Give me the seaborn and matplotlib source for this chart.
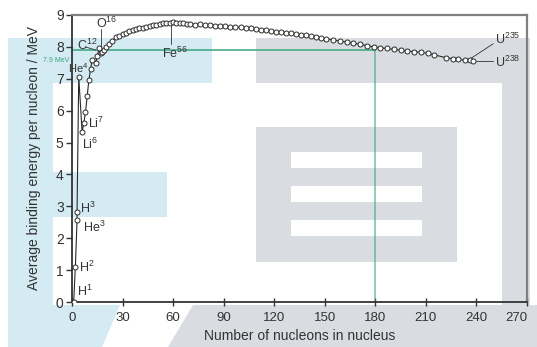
import matplotlib
matplotlib.use("Agg")
import matplotlib.pyplot as plt
import seaborn as sns
import pandas as pd
from matplotlib.patches import Polygon, Rectangle

# mass number A and binding energy per nucleon (MeV)
mass = [1, 2, 3, 3, 4, 6, 7, 8, 9, 10, 11, 12, 14, 15, 16, 17, 18, 19, 20,
        22, 24, 26, 28, 30, 32, 34, 36, 38, 40, 42, 44, 46, 48, 50, 52, 54,
        56, 58, 60, 62, 64, 66, 68, 70, 73, 76, 79, 82, 85, 88, 91, 94, 97,
        100, 103, 106, 109, 112, 115, 118, 121, 124, 127, 130, 133, 136, 139,
        142, 145, 148, 151, 155, 159, 163, 167, 171, 175, 179, 183, 187, 191,
        195, 199, 203, 207, 211, 215, 222, 226, 229, 233, 236, 238]
energy = [0.0, 1.11, 2.57, 2.83, 7.07, 5.33, 5.61, 5.95, 6.45, 6.95, 7.3,
          7.6, 7.5, 7.7, 7.95, 7.8, 7.85, 7.9, 8.0, 8.1, 8.2, 8.3, 8.35, 8.4,
          8.45, 8.5, 8.52, 8.56, 8.58, 8.6, 8.63, 8.66, 8.68, 8.7, 8.72, 8.74,
          8.76, 8.75, 8.77, 8.76, 8.74, 8.75, 8.73, 8.72, 8.7, 8.71, 8.69,
          8.68, 8.67, 8.66, 8.64, 8.63, 8.62, 8.61, 8.6, 8.58, 8.56, 8.54,
          8.52, 8.5, 8.48, 8.47, 8.45, 8.42, 8.4, 8.38, 8.36, 8.34, 8.31,
          8.28, 8.25, 8.22, 8.18, 8.15, 8.11, 8.08, 8.04, 8.0, 7.97, 7.95,
          7.92, 7.9, 7.87, 7.85, 7.83, 7.8, 7.75, 7.66, 7.63, 7.61, 7.58,
          7.6, 7.57]

ref_mass = 180
ref_energy = 7.9

xticks = [0, 30, 60, 90, 120, 150, 180, 210, 240, 270]
yticks = [0, 1, 2, 3, 4, 5, 6, 7, 8, 9]

df = pd.DataFrame({"A": mass, "E": energy})

sns.set_style("ticks")
plt.rcParams["font.family"] = ["Liberation Sans", "DejaVu Sans"]
plt.rcParams["mathtext.default"] = "regular"

W, H = 537, 347
fig = plt.figure(figsize=(W / 100, H / 100), dpi=100)


def px(x, y):
    return (x / W, 1 - y / H)


# watermark shapes in the background
blue = "#d4ebf4"
grey = "#d9dde1"
shapes = [
    ([(8, 38), (212, 38), (212, 83), (53, 83), (53, 172), (167, 172),
      (167, 217), (53, 217), (53, 305), (120, 305), (102, 347), (8, 347)], blue),
    ([(256, 38), (530, 38), (530, 305), (502, 305), (502, 83), (256, 83)], grey),
    ([(256, 127), (457, 127), (457, 262), (256, 262)], grey),
    ([(193, 305), (537, 305), (537, 347), (168, 347)], grey),
]
for pts, c in shapes:
    fig.add_artist(Polygon([px(*p) for p in pts], closed=True, fc=c, ec="none",
                           transform=fig.transFigure, zorder=-2))
for y0 in (152, 186, 220):
    x0, y1 = px(291, y0 + 16)
    fig.add_artist(Rectangle((x0, y1), 131 / W, 16 / H, fc="white", ec="none",
                             transform=fig.transFigure, zorder=-1))

ax = fig.add_axes([72 / W, 1 - 302 / H, (527 - 72) / W, (302 - 15) / H])
ax.set_facecolor("none")

green = "#3aa57c"
ax.plot([0, ref_mass], [ref_energy, ref_energy], color=green, lw=1.1, zorder=1)
ax.plot([ref_mass, ref_mass], [0, ref_energy], color=green, lw=1.1, alpha=0.7, zorder=1)
ax.text(-1.5, ref_energy - 0.33, "7.9 MeV", color=green, fontsize=5,
        ha="right", va="center")

sns.lineplot(data=df, x="A", y="E", sort=False, estimator=None, ax=ax,
             color="#2a2a2a", lw=0.8, marker="o", markersize=3.6,
             markerfacecolor="white", markeredgecolor="#2a2a2a",
             markeredgewidth=0.7, zorder=3)

tc = "#333333"
fs = 9
# isotope labels
ax.text(3.2, 0.32, "H$^1$", fontsize=fs, color=tc, va="center")
ax.text(4.2, 1.1, "H$^2$", fontsize=fs, color=tc, va="center")
ax.text(5.0, 2.93, "H$^3$", fontsize=fs, color=tc, va="center")
ax.text(6.5, 2.35, "He$^3$", fontsize=fs, color=tc, va="center")
ax.text(9.5, 5.6, "Li$^7$", fontsize=fs, color=tc, va="center")
ax.text(6.0, 4.95, "Li$^6$", fontsize=fs, color=tc, va="center")
ax.text(-2.6, 7.33, "He$^4$", fontsize=8, color=tc, va="center", ha="left")
ax.text(3.0, 8.05, "C$^{12}$", fontsize=fs, color=tc, va="center")
ax.plot([8, 14], [8.0, 7.9], color=tc, lw=0.6)
ax.text(14.5, 8.75, "O$^{16}$", fontsize=fs, color=tc, va="center")
ax.plot([17, 17], [8.55, 8.0], color=tc, lw=0.6)
ax.plot([59, 59], [8.74, 8.1], color=tc, lw=0.6)
ax.text(61, 7.8, "Fe$^{56}$", fontsize=fs, color=tc, va="center", ha="center")
ax.plot([237, 250], [7.65, 8.1], color=tc, lw=0.6)
ax.text(251, 8.22, "U$^{235}$", fontsize=fs, color=tc, va="center")
ax.plot([240, 250], [7.55, 7.55], color=tc, lw=0.6)
ax.text(251, 7.5, "U$^{238}$", fontsize=fs, color=tc, va="center")

ax.set_xlim(0, 270)
ax.set_ylim(0, 9)
ax.set_xticks(xticks)
ax.set_yticks(yticks)
ax.tick_params(axis="x", direction="inout", length=6, width=1, colors=tc,
               labelsize=9.5, pad=4)
ax.tick_params(axis="y", direction="out", length=4, width=1, colors=tc,
               labelsize=10, pad=2)
ax.get_xticklabels()[-1].set_horizontalalignment("right")
ax.set_xlabel("Number of nucleons in nucleus", fontsize=10, color=tc, labelpad=4)
ax.set_ylabel("Average binding energy per nucleon / MeV", fontsize=10,
              color=tc, labelpad=11)
for s in ("left", "bottom"):
    ax.spines[s].set_color("#333333")
    ax.spines[s].set_linewidth(1.3)
for s in ("top", "right"):
    ax.spines[s].set_visible(True)
    ax.spines[s].set_color("#808080")
    ax.spines[s].set_linewidth(1.6)

fig.savefig("out.png", dpi=100)
